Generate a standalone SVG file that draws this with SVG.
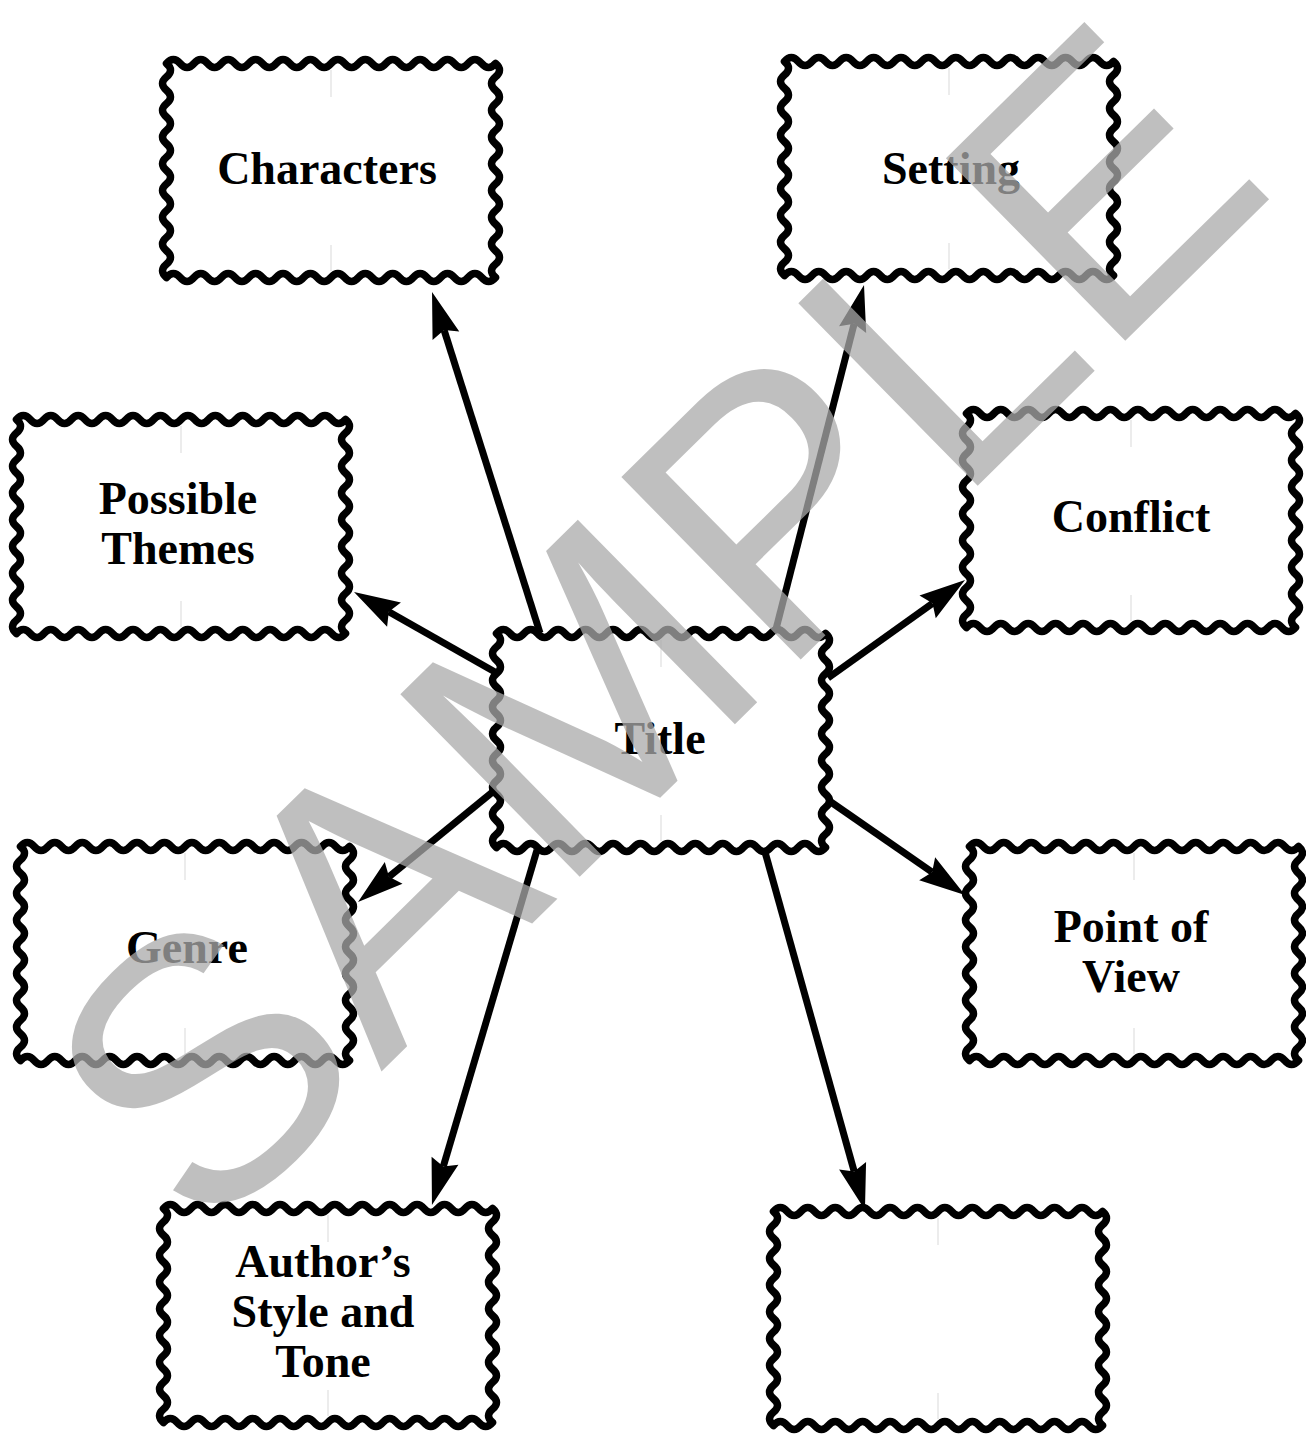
<svg xmlns="http://www.w3.org/2000/svg" xmlns:xlink="http://www.w3.org/1999/xlink" width="1306" height="1435" viewBox="0 0 1306 1435">
<style>
.box{fill:#fff;stroke:#000;stroke-width:7.5;stroke-linejoin:round;stroke-linecap:round}
.tick{stroke:#d9d9d9;stroke-width:1}
.lbl{font-family:"Liberation Serif","Times New Roman",serif;font-weight:bold;font-size:46px;text-anchor:middle;fill:#000}
.arr{stroke:#000;stroke-width:7;fill:none;marker-end:url(#head)}
.wm{font-family:"Liberation Sans",Arial,sans-serif;font-size:372px;fill:#aaa;fill-opacity:0.75}
</style>
<defs>
<marker id="head" markerUnits="userSpaceOnUse" markerWidth="60" markerHeight="40" refX="0" refY="0" viewBox="-10 -20 60 40" orient="auto" overflow="visible">
<path d="M0,0 L-6,-14 L40,0 L-6,14 Z" fill="#000"/>
</marker>
<g id="frame">
<path class="box" d="M6.5,6.5 q6.854,-8 13.708,0 t13.708,0 t13.708,0 t13.708,0 t13.708,0 t13.708,0 t13.708,0 t13.708,0 t13.708,0 t13.708,0 t13.708,0 t13.708,0 t13.708,0 t13.708,0 t13.708,0 t13.708,0 t13.708,0 t13.708,0 t13.708,0 t13.708,0 t13.708,0 t13.708,0 t13.708,0 t13.708,0 q8,6.6875 0,13.375 t0,13.375 t0,13.375 t0,13.375 t0,13.375 t0,13.375 t0,13.375 t0,13.375 t0,13.375 t0,13.375 t0,13.375 t0,13.375 t0,13.375 t0,13.375 t0,13.375 t0,13.375 q-6.854,8 -13.708,0 t-13.708,0 t-13.708,0 t-13.708,0 t-13.708,0 t-13.708,0 t-13.708,0 t-13.708,0 t-13.708,0 t-13.708,0 t-13.708,0 t-13.708,0 t-13.708,0 t-13.708,0 t-13.708,0 t-13.708,0 t-13.708,0 t-13.708,0 t-13.708,0 t-13.708,0 t-13.708,0 t-13.708,0 t-13.708,0 t-13.708,0 q-8,-6.6875 0,-13.375 t0,-13.375 t0,-13.375 t0,-13.375 t0,-13.375 t0,-13.375 t0,-13.375 t0,-13.375 t0,-13.375 t0,-13.375 t0,-13.375 t0,-13.375 t0,-13.375 t0,-13.375 t0,-13.375 t0,-13.375 Z"/>
<line class="tick" x1="171" y1="13" x2="171" y2="40"/>
<line class="tick" x1="171" y1="188" x2="171" y2="214"/>
</g>
</defs>
<rect width="1306" height="1435" fill="#fff"/>
<g id="connectors">
<line class="arr" x1="540" y1="633" x2="444.1" y2="330.1"/>
<line class="arr" x1="775" y1="633" x2="854.1" y2="323.8"/>
<line class="arr" x1="495" y1="672" x2="388.8" y2="611.7"/>
<line class="arr" x1="828" y1="678" x2="932.5" y2="603.3"/>
<line class="arr" x1="495" y1="790" x2="389" y2="876.7"/>
<line class="arr" x1="828" y1="800" x2="932.1" y2="872.2"/>
<line class="arr" x1="537" y1="850" x2="443.3" y2="1166.6"/>
<line class="arr" x1="765" y1="852" x2="854.2" y2="1171.5"/>
</g>
<g id="characters"><use xlink:href="#frame" href="#frame" x="160" y="57"/><text class="lbl" x="327" y="184">Characters</text></g>
<g id="setting"><use xlink:href="#frame" href="#frame" x="778" y="55"/><text class="lbl" x="951" y="184">Setting</text></g>
<g id="themes"><use xlink:href="#frame" href="#frame" x="10" y="413"/><text class="lbl" x="178" y="514">Possible</text><text class="lbl" x="178" y="564">Themes</text></g>
<g id="conflict"><use xlink:href="#frame" href="#frame" x="960" y="407"/><text class="lbl" x="1131" y="532">Conflict</text></g>
<g id="title"><use xlink:href="#frame" href="#frame" x="490" y="627"/><text class="lbl" x="660" y="754">Title</text></g>
<g id="genre"><use xlink:href="#frame" href="#frame" x="14" y="840"/><text class="lbl" x="187" y="963">Genre</text></g>
<g id="pov"><use xlink:href="#frame" href="#frame" x="963" y="840"/><text class="lbl" x="1131" y="942">Point of</text><text class="lbl" x="1131" y="992">View</text></g>
<g id="author"><use xlink:href="#frame" href="#frame" x="157" y="1202"/><text class="lbl" x="323" y="1277">Author’s</text><text class="lbl" x="323" y="1327">Style and</text><text class="lbl" x="323" y="1377">Tone</text></g>
<g id="blank"><use xlink:href="#frame" href="#frame" x="767" y="1205"/></g>
<text class="wm" transform="translate(204,1246) rotate(-44.5)">SAMPLE</text>
</svg>
